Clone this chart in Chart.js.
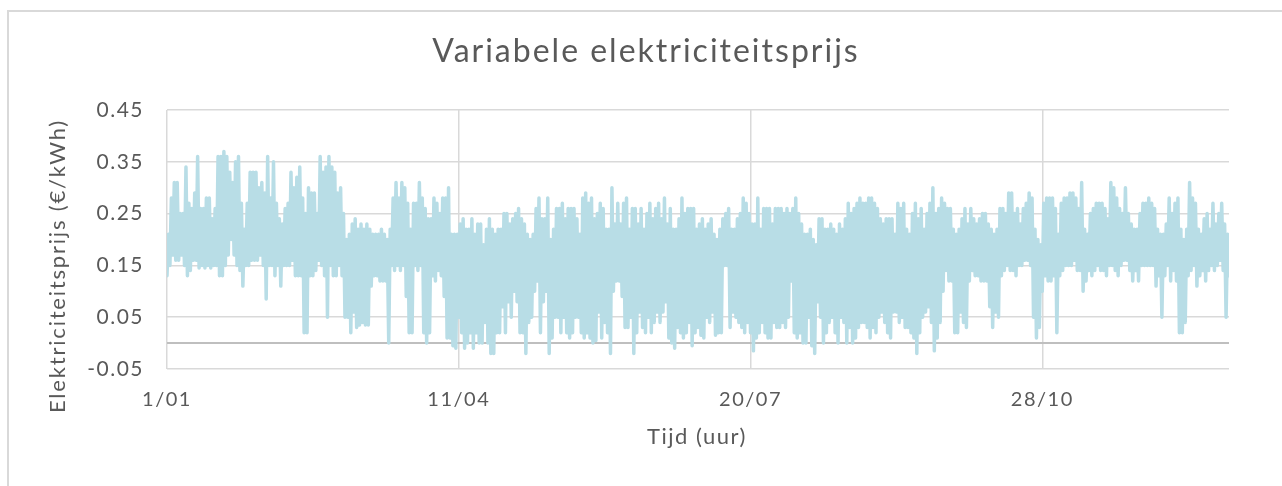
<!DOCTYPE html>
<html>
<head>
<meta charset="utf-8">
<title>Variabele elektriciteitsprijs</title>
<script src="https://cdn.jsdelivr.net/npm/chart.js@4.4.1/dist/chart.umd.min.js"></script>
<style>
  html, body { margin: 0; padding: 0; background: #fff; overflow: hidden; }
  #frame { position: absolute; left: 7px; top: 10px; width: 1400px; height: 600px; border: 2px solid #d9d9d9; box-sizing: border-box; }
  #wrap { position: absolute; left: 0; top: 0; width: 1282px; height: 486px; }
</style>
</head>
<body>
<div id="frame"></div>
<div id="wrap"><canvas id="chart" width="1282" height="486"></canvas></div>
<script>
// daily lowest and highest hourly price (€/kWh), day 0 = 1 January
const priceLow = [
  0.13, 0.15, 0.17, 0.16, 0.16, 0.17, 0.15, 0.13, 0.14, 0.16,
  0.16, 0.145, 0.15, 0.145, 0.15, 0.145, 0.15, 0.15, 0.13, 0.13,
  0.15, 0.17, 0.20, 0.17, 0.15, 0.14, 0.11, 0.15, 0.15, 0.16,
  0.16, 0.16, 0.17, 0.15, 0.085, 0.15, 0.15, 0.13, 0.15, 0.11,
  0.15, 0.15, 0.15, 0.16, 0.13, 0.13, 0.13, 0.02, 0.02, 0.13,
  0.13, 0.14, 0.16, 0.15, 0.13, 0.05, 0.15, 0.13, 0.13, 0.15,
  0.13, 0.05, 0.05, 0.02, 0.06, 0.03, 0.035, 0.04, 0.035, 0.035,
  0.11, 0.13, 0.13,
  0.12, 0.12, 0.12, 0.0, 0.15, 0.14, 0.15, 0.14, 0.15, 0.09,
  0.02, 0.02, 0.15, 0.14, 0.15, 0.02, 0.0, 0.02, 0.13, 0.12,
  0.14, 0.13, 0.09, 0.01, 0.01, -0.005, -0.01, 0.05, 0.02, -0.01,
  0.0, 0.02, -0.01, 0.02, 0.0, 0.0, 0.04, 0.0, -0.02, -0.02,
  0.02, 0.02, 0.07, 0.02, 0.08, 0.05, 0.10, 0.08, 0.02, 0.02,
  -0.02, 0.04, 0.05, 0.10, 0.12, 0.02, 0.08, 0.10, -0.02, 0.01,
  0.05, 0.05, 0.02, 0.05, 0.02, 0.01, 0.02, 0.05, 0.05, 0.02,
  0.01, 0.02,
  0.01, 0.0, 0.005, 0.06, 0.01, 0.04, 0.02, -0.02, 0.10, 0.12,
  0.12, 0.09, 0.03, 0.03, 0.05, -0.02, 0.02, 0.06, 0.03, 0.02,
  0.05, 0.02, 0.04, 0.06, 0.04, 0.06, 0.08, 0.01, 0.0, -0.01,
  0.03, 0.02, 0.01, 0.02, 0.04, -0.005, 0.02, 0.03, 0.015, 0.01,
  0.05, 0.04, 0.06, 0.015, 0.02, 0.02, 0.15, 0.15, 0.03, 0.06,
  0.05, 0.04, 0.03, 0.02, 0.04, 0.02, -0.015, 0.01, 0.02, 0.04,
  0.02, 0.01, 0.01, 0.04, 0.03, 0.03, 0.04, 0.03, 0.05, 0.12,
  0.02, 0.01,
  0.02, 0.0, 0.0, 0.05, -0.005, -0.02, 0.08, 0.05, 0.0, 0.02,
  0.04, 0.05, 0.02, 0.0, 0.05, 0.04, 0.0, 0.03, 0.0, 0.01,
  0.03, 0.04, 0.04, 0.03, 0.01, 0.03, 0.02, 0.05, 0.06, 0.04,
  0.02, 0.01, 0.06, 0.06, 0.04, 0.05, 0.03, 0.03, 0.02, 0.01,
  -0.02, 0.02, 0.05, 0.06, 0.07, 0.04, -0.015, 0.01, 0.04, 0.10,
  0.14, 0.12, 0.12, 0.02, 0.02, 0.06, 0.04, 0.03, 0.12, 0.14,
  0.13, 0.13, 0.12, 0.12, 0.12, 0.07, 0.03, 0.06, 0.05, 0.13,
  0.14, 0.15,
  0.14, 0.14, 0.13, 0.15, 0.15, 0.16, 0.16, 0.15, 0.05, 0.01,
  0.03, 0.10, 0.13, 0.12, 0.12, 0.13, 0.02, 0.13, 0.14, 0.15,
  0.15, 0.15, 0.16, 0.14, 0.14, 0.10, 0.12, 0.14, 0.13, 0.14,
  0.15, 0.14, 0.14, 0.13, 0.15, 0.15, 0.14, 0.13, 0.15, 0.16,
  0.16, 0.14, 0.12, 0.14, 0.12, 0.15, 0.15, 0.15, 0.15, 0.15,
  0.11, 0.13, 0.05, 0.13, 0.15, 0.12, 0.14, 0.12, 0.02, 0.02,
  0.04, 0.13, 0.14, 0.15, 0.11, 0.13, 0.14, 0.12, 0.14, 0.15,
  0.14, 0.15, 0.16, 0.14, 0.05, 0.13
];
const priceHigh = [
  0.21, 0.28, 0.31, 0.31, 0.25, 0.25, 0.34, 0.27, 0.26, 0.29,
  0.36, 0.26, 0.26, 0.28, 0.28, 0.24, 0.26, 0.36, 0.36, 0.37,
  0.36, 0.33, 0.31, 0.35, 0.36, 0.27, 0.22, 0.27, 0.33, 0.33,
  0.33, 0.30, 0.31, 0.29, 0.36, 0.28, 0.35, 0.27, 0.24, 0.23,
  0.26, 0.27, 0.33, 0.30, 0.32, 0.34, 0.28, 0.25, 0.30, 0.29,
  0.29, 0.25, 0.36, 0.33, 0.34, 0.36, 0.34, 0.33, 0.29, 0.30,
  0.25, 0.20, 0.21, 0.23, 0.24, 0.22, 0.23, 0.22, 0.23, 0.22,
  0.21, 0.21, 0.21,
  0.22, 0.21, 0.20, 0.22, 0.28, 0.31, 0.28, 0.31, 0.30, 0.27,
  0.22, 0.27, 0.27, 0.31, 0.28, 0.26, 0.24, 0.24, 0.28, 0.27,
  0.25, 0.28, 0.28, 0.30, 0.21, 0.21, 0.21, 0.23, 0.24, 0.22,
  0.22, 0.24, 0.21, 0.23, 0.23, 0.19, 0.22, 0.24, 0.22, 0.21,
  0.22, 0.22, 0.25, 0.25, 0.23, 0.24, 0.25, 0.26, 0.24, 0.23,
  0.21, 0.20, 0.21, 0.26, 0.28, 0.24, 0.24, 0.28, 0.20, 0.22,
  0.26, 0.26, 0.27, 0.24, 0.26, 0.26, 0.26, 0.24, 0.21, 0.28,
  0.29, 0.27,
  0.28, 0.24, 0.25, 0.27, 0.26, 0.22, 0.22, 0.30, 0.23, 0.27,
  0.23, 0.27, 0.28, 0.22, 0.26, 0.26, 0.23, 0.26, 0.22, 0.25,
  0.27, 0.24, 0.26, 0.27, 0.24, 0.28, 0.23, 0.26, 0.22, 0.22,
  0.24, 0.28, 0.25, 0.26, 0.26, 0.26, 0.22, 0.23, 0.24, 0.22,
  0.23, 0.24, 0.21, 0.20, 0.22, 0.24, 0.25, 0.26, 0.22, 0.22,
  0.24, 0.25, 0.28, 0.27, 0.25, 0.23, 0.23, 0.28, 0.22, 0.26,
  0.26, 0.26, 0.23, 0.26, 0.26, 0.26, 0.25, 0.26, 0.25, 0.26,
  0.28, 0.25,
  0.23, 0.21, 0.21, 0.22, 0.20, 0.19, 0.24, 0.24, 0.22, 0.22,
  0.23, 0.22, 0.21, 0.23, 0.22, 0.24, 0.27, 0.25, 0.26, 0.27,
  0.28, 0.27, 0.27, 0.28, 0.28, 0.27, 0.26, 0.24, 0.23, 0.24,
  0.24, 0.24, 0.21, 0.27, 0.26, 0.27, 0.22, 0.21, 0.25, 0.27,
  0.24, 0.26, 0.22, 0.25, 0.27, 0.30, 0.25, 0.26, 0.28, 0.27,
  0.26, 0.26, 0.22, 0.21, 0.22, 0.24, 0.26, 0.23, 0.26, 0.24,
  0.23, 0.24, 0.25, 0.25, 0.23, 0.22, 0.21, 0.22, 0.26, 0.26,
  0.25, 0.29,
  0.29, 0.25, 0.26, 0.23, 0.26, 0.27, 0.29, 0.28, 0.22, 0.20,
  0.19, 0.27, 0.28, 0.28, 0.28, 0.26, 0.21, 0.27, 0.28, 0.28,
  0.29, 0.29, 0.28, 0.26, 0.31, 0.22, 0.21, 0.25, 0.26, 0.27,
  0.27, 0.27, 0.26, 0.24, 0.31, 0.30, 0.28, 0.26, 0.25, 0.30,
  0.25, 0.23, 0.22, 0.22, 0.25, 0.27, 0.27, 0.28, 0.27, 0.26,
  0.22, 0.21, 0.21, 0.23, 0.28, 0.25, 0.27, 0.28, 0.22, 0.20,
  0.22, 0.31, 0.28, 0.27, 0.22, 0.21, 0.24, 0.25, 0.22, 0.27,
  0.23, 0.25, 0.27, 0.23, 0.21, 0.26
];

const xTickDays = [0, 100, 200, 300];
const xTickLabels = ['1/01', '11/04', '20/07', '28/10'];
const yTickValues = [-0.05, 0, 0.05, 0.15, 0.25, 0.35, 0.45];

const chartTitle = 'Variabele elektriciteitsprijs';
const xTitle = 'Tijd (uur)';
const yTitle = 'Elektriciteitsprijs (€/kWh)';

const textColor = '#595959';
const fontName = 'Lato';

// each day: its low, then its high half a day later
const points = [];
for (let d = 0; d < priceLow.length; d++) {
  points.push({ x: d, y: priceLow[d] });
  points.push({ x: d + 0.5, y: priceHigh[d] });
}

// the original font is a wide one, so space the letters out a bit
const chartTexts = {
  id: 'chartTexts',
  beforeDraw(chart) {
    chart.ctx.letterSpacing = '1.5px';
  },
  afterDraw(chart) {
    const c = chart.ctx;
    c.save();
    c.fillStyle = textColor;
    c.textAlign = 'center';
    c.textBaseline = 'alphabetic';
    c.letterSpacing = '2px';
    c.font = '32px ' + fontName;
    c.fillText(chartTitle, 646, 62);
    c.textBaseline = 'middle';
    c.letterSpacing = '1.5px';
    c.font = '22px ' + fontName;
    c.fillText(xTitle, 697, 437);
    c.letterSpacing = '1.8px';
    c.translate(58, 266);
    c.rotate(-Math.PI / 2);
    c.fillText(yTitle, 0, 0);
    c.restore();
  }
};

const ctx = document.getElementById('chart').getContext('2d');
const myChart = new Chart(ctx, {
  type: 'line',
  data: {
    datasets: [
      {
        label: 'Prijs',
        data: points,
        borderColor: 'rgb(184, 221, 230)',
        borderWidth: 3.5,
        borderJoinStyle: 'round',
        borderCapStyle: 'round',
        pointRadius: 0,
        fill: false,
        tension: 0,
      },
    ],
  },
  options: {
    responsive: false,
    animation: false,
    devicePixelRatio: 1,
    layout: { padding: { top: 110, right: 53, bottom: 0, left: 0 } },
    plugins: {
      legend: { display: false },
      tooltip: { enabled: false },
    },
    scales: {
      x: {
        type: 'linear',
        min: 0,
        max: 364,
        afterFit: (scale) => { scale.height = 117; },
        afterBuildTicks: (scale) => { scale.ticks = xTickDays.map((v) => ({ value: v })); },
        ticks: {
          padding: 19,
          maxRotation: 0,
          autoSkip: false,
          color: textColor,
          font: { family: fontName, size: 20 },
          callback: (value) => xTickLabels[xTickDays.indexOf(value)],
        },
        grid: { drawTicks: false, color: '#d9d9d9', lineWidth: 1.5 },
        border: { display: false },
      },
      y: {
        type: 'linear',
        min: -0.05,
        max: 0.45,
        afterFit: (scale) => { scale.width = 167; },
        afterBuildTicks: (scale) => { scale.ticks = yTickValues.map((v) => ({ value: v })); },
        ticks: {
          padding: 23,
          color: textColor,
          font: { family: fontName, size: 21 },
          // 0 only gets the darker axis line, no label
          callback: (value) => (value === 0 ? '' : value.toFixed(2)),
        },
        grid: {
          drawTicks: false,
          color: (c) => (c.tick && c.tick.value === 0 ? '#bfbfbf' : '#d9d9d9'),
          lineWidth: (c) => (c.tick && c.tick.value === 0 ? 2 : 1.5),
        },
        border: { display: false },
      },
    },
  },
  plugins: [chartTexts],
});
</script>
</body>
</html>
